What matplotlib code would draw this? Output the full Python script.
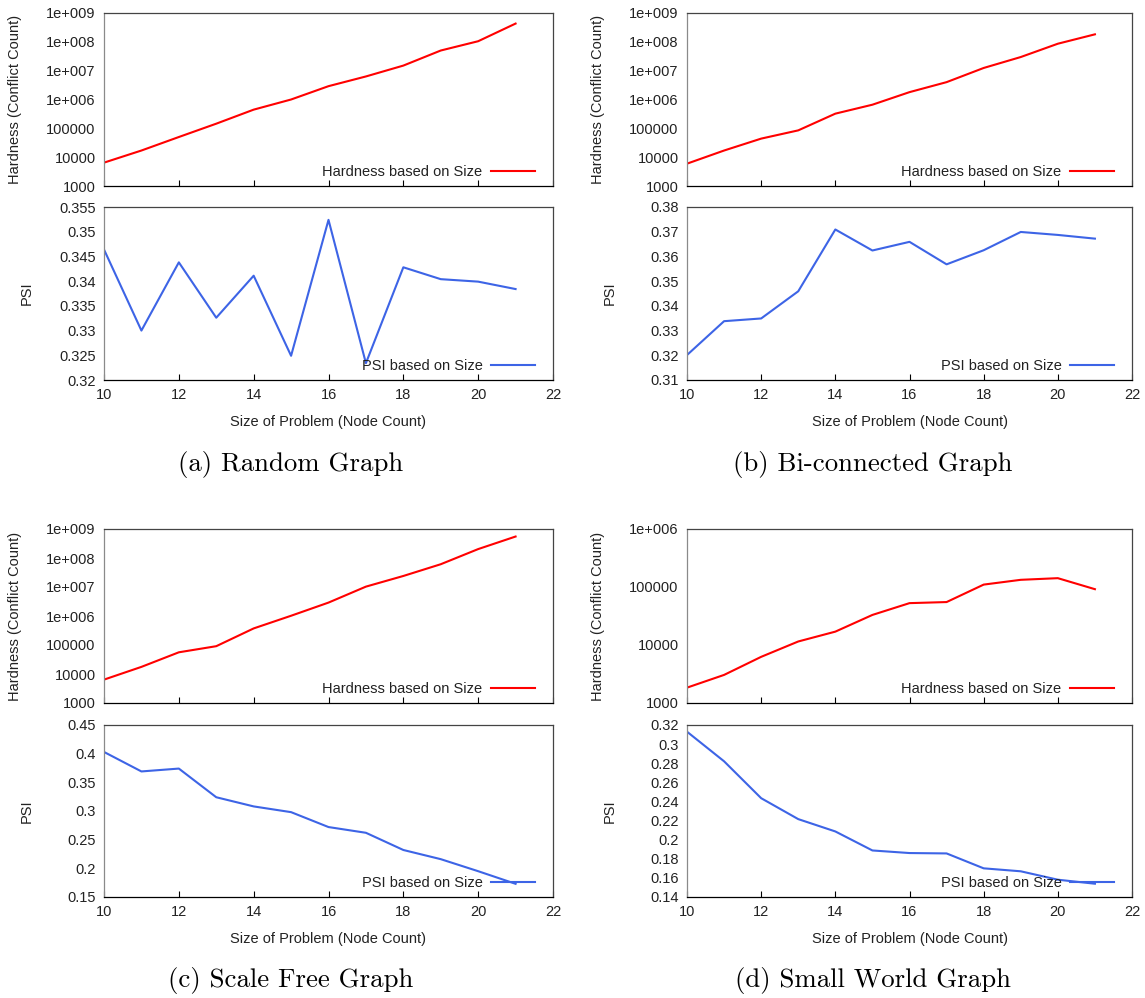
import matplotlib
matplotlib.use("Agg")
import matplotlib.pyplot as plt
from matplotlib.ticker import FixedLocator, FixedFormatter, NullFormatter

# Problem sizes (node counts)
sizes = [10, 11, 12, 13, 14, 15, 16, 17, 18, 19, 20, 21]

# Hardness (conflict count) per graph family
hard_random = [6460, 17000, 50000, 145000, 445000, 1.0e6, 2.9e6, 6.3e6, 1.5e7, 5.0e7, 1.05e8, 4.3e8]
hard_biconn = [5950, 17000, 44000, 85000, 323000, 660000, 1.8e6, 4.0e6, 1.24e7, 2.97e7, 8.6e7, 1.82e8]
hard_scalefree = [6400, 17600, 56000, 91000, 373000, 1.02e6, 2.9e6, 1.03e7, 2.4e7, 6.1e7, 2.03e8, 5.5e8]
hard_smallworld = [1840, 3050, 6250, 11500, 17000, 33000, 52700, 55000, 110000, 133000, 142000, 91700]

# PSI per graph family
psi_random = [0.3464, 0.3300, 0.3438, 0.3326, 0.3411, 0.3249, 0.3524, 0.3234, 0.3428, 0.3404, 0.3399, 0.3384]
psi_biconn = [0.3201, 0.3338, 0.3349, 0.3459, 0.3709, 0.3624, 0.3659, 0.3568, 0.3625, 0.3699, 0.3687, 0.3672]
psi_scalefree = [0.403, 0.369, 0.374, 0.324, 0.308, 0.298, 0.272, 0.262, 0.232, 0.216, 0.195, 0.173]
psi_smallworld = [0.313, 0.282, 0.2434, 0.2215, 0.2086, 0.1887, 0.186, 0.1856, 0.170, 0.1669, 0.1581, 0.1539]

# Axis ticks
x_ticks = [10, 12, 14, 16, 18, 20, 22]
hard_ticks_big = [1e3, 1e4, 1e5, 1e6, 1e7, 1e8, 1e9]
hard_labels_big = ["1000", "10000", "100000", "1e+006", "1e+007", "1e+008", "1e+009"]
hard_ticks_small = [1e3, 1e4, 1e5, 1e6]
hard_labels_small = ["1000", "10000", "100000", "1e+006"]
psi_ticks_random = [0.32, 0.325, 0.33, 0.335, 0.34, 0.345, 0.35, 0.355]
psi_labels_random = ["0.32", "0.325", "0.33", "0.335", "0.34", "0.345", "0.35", "0.355"]
psi_ticks_biconn = [0.31, 0.32, 0.33, 0.34, 0.35, 0.36, 0.37, 0.38]
psi_labels_biconn = ["0.31", "0.32", "0.33", "0.34", "0.35", "0.36", "0.37", "0.38"]
psi_ticks_scalefree = [0.15, 0.2, 0.25, 0.3, 0.35, 0.4, 0.45]
psi_labels_scalefree = ["0.15", "0.2", "0.25", "0.3", "0.35", "0.4", "0.45"]
psi_ticks_smallworld = [0.14, 0.16, 0.18, 0.2, 0.22, 0.24, 0.26, 0.28, 0.3, 0.32]
psi_labels_smallworld = ["0.14", "0.16", "0.18", "0.2", "0.22", "0.24", "0.26", "0.28", "0.3", "0.32"]

captions = ["(a) Random Graph", "(b) Bi-connected Graph",
            "(c) Scale Free Graph", "(d) Small World Graph"]

RED = "#ff0000"
BLUE = "#3d64e6"
SANS = "Liberation Sans"
FS = 10.5

W, H = 1145, 998
fig = plt.figure(figsize=(W / 100, H / 100), dpi=100)


def px_axes(x0, y0, x1, y1):
    return fig.add_axes([x0 / W, 1 - y1 / H, (x1 - x0) / W, (y1 - y0) / H])


def style(ax):
    ax.set_xlim(10, 22)
    ax.xaxis.set_major_locator(FixedLocator(x_ticks))
    ax.tick_params(axis="x", direction="in", length=4, width=0.8, top=False,
                   labelsize=FS, colors="black", pad=6)
    ax.tick_params(axis="y", length=0, labelsize=FS, pad=6)
    for lab in ax.get_xticklabels() + ax.get_yticklabels():
        lab.set_fontfamily(SANS)
        lab.set_color("#222222")
    ax.spines["left"].set_color("#8a8a8a")
    ax.spines["bottom"].set_color("black")
    ax.spines["top"].set_color("#444444")
    ax.spines["right"].set_color("#444444")
    for s in ax.spines.values():
        s.set_linewidth(0.9)


def legend(ax, width_px, height_px):
    leg = ax.legend(loc="center right", frameon=False, markerfirst=False,
                    bbox_to_anchor=(1 - 18 / width_px, 14 / height_px),
                    handlelength=3.0, handletextpad=0.6,
                    borderaxespad=0, borderpad=0,
                    prop={"family": SANS, "size": FS})
    for t in leg.get_texts():
        t.set_color("#222222")


panels = [
    (hard_random, psi_random, hard_ticks_big, hard_labels_big, (1e3, 1e9),
     psi_ticks_random, psi_labels_random, (0.32, 0.355)),
    (hard_biconn, psi_biconn, hard_ticks_big, hard_labels_big, (1e3, 1e9),
     psi_ticks_biconn, psi_labels_biconn, (0.31, 0.38)),
    (hard_scalefree, psi_scalefree, hard_ticks_big, hard_labels_big, (1e3, 1e9),
     psi_ticks_scalefree, psi_labels_scalefree, (0.15, 0.45)),
    (hard_smallworld, psi_smallworld, hard_ticks_small, hard_labels_small, (1e3, 1e6),
     psi_ticks_smallworld, psi_labels_smallworld, (0.14, 0.32)),
]

# pixel boxes: (x0, x1) per column, (top y0, y1, bottom y0, y1) per row
cols = [(104, 553), (687, 1132)]
rows = [(13, 186, 207, 380), (529, 703, 725, 897)]
caption_x = [291, 873]
caption_y = [464, 981]

for i, (hard, psi, ht, hl, hlim, pt, pl, plim) in enumerate(panels):
    c, r = i % 2, i // 2
    x0, x1 = cols[c]
    ty0, ty1, by0, by1 = rows[r]

    ax_h = px_axes(x0, ty0, x1, ty1)
    ax_h.plot(sizes, hard, color=RED, lw=1.5, label="Hardness based on Size")
    ax_h.set_yscale("log")
    ax_h.set_ylim(*hlim)
    ax_h.yaxis.set_major_locator(FixedLocator(ht))
    ax_h.yaxis.set_major_formatter(FixedFormatter(hl))
    ax_h.yaxis.set_minor_locator(FixedLocator([]))
    ax_h.xaxis.set_major_formatter(NullFormatter())
    style(ax_h)
    ax_h.set_ylabel("Hardness (Conflict Count)", family=SANS, fontsize=FS,
                    color="#222222")
    ax_h.yaxis.set_label_coords(-82 / (x1 - x0), 0.5)
    legend(ax_h, x1 - x0, ty1 - ty0)

    ax_p = px_axes(x0, by0, x1, by1)
    ax_p.plot(sizes, psi, color=BLUE, lw=1.5, label="PSI based on Size")
    ax_p.set_ylim(*plim)
    ax_p.yaxis.set_major_locator(FixedLocator(pt))
    ax_p.yaxis.set_major_formatter(FixedFormatter(pl))
    style(ax_p)
    ax_p.set_ylabel("PSI", family=SANS, fontsize=FS, color="#222222")
    ax_p.yaxis.set_label_coords(-70 / (x1 - x0), 0.5)
    ax_p.set_xlabel("Size of Problem (Node Count)", family=SANS, fontsize=FS,
                    color="#222222", labelpad=9)
    legend(ax_p, x1 - x0, by1 - by0)

    fig.text(caption_x[c] / W, 1 - caption_y[r] / H, captions[i],
             family="cmr10", fontsize=19.3, ha="center", va="center")

fig.savefig("out.png", dpi=100)
